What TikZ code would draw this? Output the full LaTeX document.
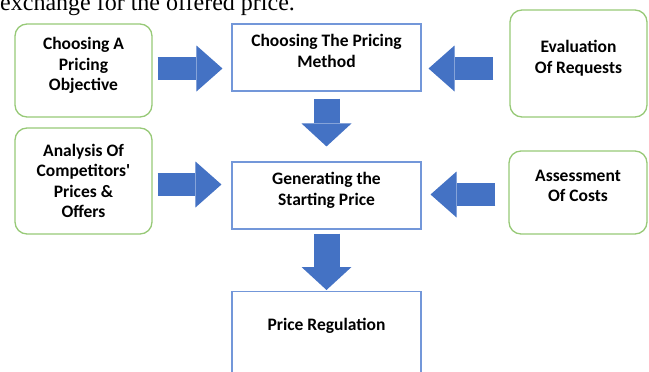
\documentclass[tikz,border=0pt]{standalone}
\usepackage{fontspec}
\setmainfont{Liberation Serif}
\newfontfamily\calfont{Carlito}
\usetikzlibrary{arrows.meta, positioning}

\definecolor{flowblue}{HTML}{4472C4}
\definecolor{stepline}{HTML}{7397D9}
\definecolor{inputline}{HTML}{97C977}

\tikzset{
    stepbox/.style={draw=stepline, line width=1.1pt, minimum width=189pt, minimum height=67pt,
        align=center, font=\calfont\bfseries\fontsize{17.5}{20.5}\selectfont},
    inputbox/.style={draw=inputline, line width=1.3pt, rounded corners=12pt, minimum width=137pt,
        align=center, font=\calfont\bfseries\fontsize{17.5}{20.5}\selectfont},
    lifted/.style={execute at end node={\rule[-13pt]{0pt}{1pt}}},
    hflow/.style={draw=flowblue, line width=23pt, -{Triangle[width=46pt, length=26pt, line width=0pt]}},
    vflow/.style={draw=flowblue, line width=26pt, -{Triangle[width=50pt, length=23pt, line width=0pt]}}
}

\begin{document}
\begin{tikzpicture}[x=1pt, y=-1pt]
    \clip (0,0) rectangle (649,372);
    \node [anchor=base west, inner sep=0pt, font=\fontsize{24}{29}\selectfont] (caption) at (0, 10.5) {exchange for the offered price.};

    \node [inputbox, minimum height=93pt, lifted] (objective) at (83.5, 70.5) {Choosing A\\Pricing\\Objective};
    \node [stepbox, lifted] (method) at (326.5, 57.5) {Choosing The Pricing\\Method};
    \node [inputbox, minimum height=107pt, lifted] (requests) at (578.5, 63.5) {Evaluation\\Of Requests};

    \node [inputbox, minimum height=106pt] (competitors) at (83.5, 181) {Analysis Of\\Competitors'\\Prices \&\\Offers};
    \node [stepbox, lifted] (start) at (326.5, 195.5) {Generating the\\Starting Price};
    \node [inputbox, minimum height=83pt, minimum width=138pt, lifted] (costs) at (578, 192.5) {Assessment\\Of Costs};

    \node [stepbox, anchor=north, minimum height=0pt, inner ysep=0pt, text height=39pt, text depth=60pt] (regulation) at (326.5, 291) {Price Regulation};

    % block arrows into the steps
    \draw [hflow, shorten <=5pt, shorten >=9pt] ([yshift=2pt]objective.east) -- ([yshift=2pt]objective.east -| method.west);
    \draw [hflow, shorten <=16pt, shorten >=7pt] ([yshift=-5pt]requests.west) -- ([yshift=-5pt]requests.west -| method.east);
    \draw [hflow, shorten <=5pt, shorten >=10pt] ([yshift=-3.5pt]competitors.east) -- ([yshift=-3.5pt]competitors.east -| start.west);
    \draw [hflow, shorten <=13pt, shorten >=9pt] ([yshift=-2pt]costs.west) -- ([yshift=-2pt]costs.west -| start.east);

    \draw [vflow, shorten <=7pt, shorten >=15pt] (method.south) -- (start.north);
    \draw [vflow, shorten <=4pt, shorten >=1pt] (start.south) -- (regulation.north);
\end{tikzpicture}
\end{document}
